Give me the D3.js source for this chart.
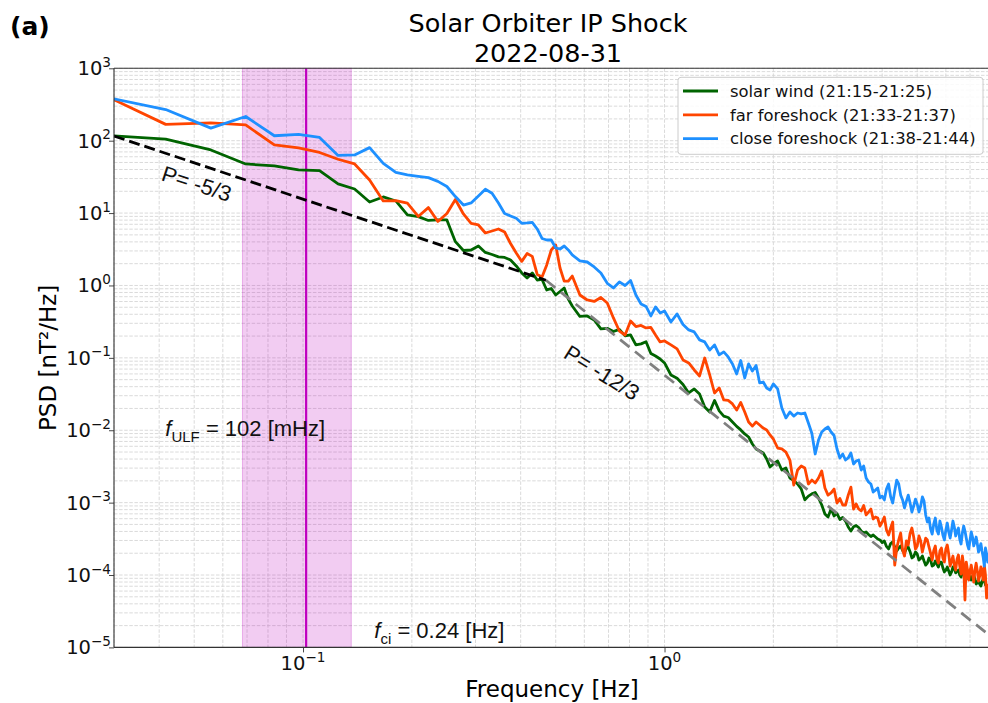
<!DOCTYPE html>
<html>
<head>
<meta charset="utf-8">
<script src="https://cdn.jsdelivr.net/npm/d3@7"></script>
<style>
  body { margin: 0; background: #fff; }
  svg { display: block; font-family: "DejaVu Sans", sans-serif; }
</style>
</head>
<body>
<svg id="chart" width="988" height="703"></svg>
<script>
// Frequencies [Hz] (k/72 Hz, thinned out at high frequency)
const freq = [
  0.0278, 0.0417, 0.0556, 0.0694, 0.0833, 0.0972, 0.1111, 0.125, 0.1389, 0.1528,
  0.1667, 0.1806, 0.1944, 0.2083, 0.2222, 0.2361, 0.25, 0.2639, 0.2778, 0.2917,
  0.3056, 0.3194, 0.3333, 0.3472, 0.3611, 0.375, 0.3889, 0.4028, 0.4167, 0.4306,
  0.4444, 0.4583, 0.4722, 0.4861, 0.5, 0.5139, 0.5278, 0.5417, 0.5556,
  0.5833, 0.6111, 0.6389, 0.6667, 0.6944, 0.7222, 0.75, 0.7778, 0.8056, 0.8333,
  0.8611, 0.8889, 0.9167, 0.9444, 0.9722, 1.0,
  1.0417, 1.0833, 1.125, 1.1667, 1.2083, 1.25, 1.2917, 1.3333, 1.375, 1.4167,
  1.4583, 1.5, 1.5417, 1.5833, 1.625, 1.6667, 1.7083, 1.75, 1.7917, 1.8333,
  1.875, 1.9167, 1.9583, 2.0,
  2.0556, 2.1111, 2.1667, 2.2222, 2.2778, 2.3333, 2.3889, 2.4444, 2.5, 2.5556,
  2.6111, 2.6667, 2.7222, 2.7778, 2.8333, 2.8889, 2.9444, 3.0, 3.0556, 3.1111,
  3.1667, 3.2222, 3.2778, 3.3333, 3.3889, 3.4444, 3.5, 3.5556, 3.6111, 3.6667,
  3.7222, 3.7778, 3.8333, 3.8889, 3.9444, 4.0,
  4.0556, 4.1111, 4.1667, 4.2222, 4.2778, 4.3333, 4.3889, 4.4444, 4.5, 4.5556,
  4.6111, 4.6667, 4.7222, 4.7778, 4.8333, 4.8889, 4.9444, 5.0, 5.0556, 5.1111,
  5.1667, 5.2222, 5.2778, 5.3333, 5.3889, 5.4444, 5.5, 5.5556, 5.6111, 5.6667,
  5.7222, 5.7778, 5.8333, 5.8889, 5.9444, 6.0, 6.0556, 6.1111, 6.1667, 6.2222,
  6.2778, 6.3333, 6.3889, 6.4444, 6.5, 6.5556, 6.6111, 6.6667, 6.7222, 6.7778,
  6.8333, 6.8889, 6.9444, 7.0, 7.0556, 7.1111, 7.1667, 7.2222, 7.2778, 7.3333,
  7.3889, 7.4444, 7.5, 7.5556, 7.6111, 7.6667, 7.7222, 7.7778, 7.8333, 7.8889,
  7.9444, 8.0
];

// PSD [nT^2/Hz]
const psdSolarWind = [
  119, 105, 74.5, 47.7, 44.8, 39.4, 38.6, 25.3, 21.5, 14.2,
  16.7, 14.7, 9.42, 8.92, 7.91, 8.04, 8.04, 4.03, 3.04, 3.09,
  3.51, 2.86, 2.68, 2.48, 2.44, 2.25, 1.86, 1.49, 1.27, 1.49,
  1.19, 1.21, 0.867, 0.909, 0.739, 0.826, 0.924, 0.651, 0.521,
  0.373, 0.379, 0.334, 0.251, 0.256, 0.231, 0.247, 0.201, 0.207, 0.151,
  0.156, 0.167, 0.115, 0.106, 0.0965, 0.085,
  0.058, 0.0522, 0.0429, 0.0327, 0.0372, 0.0317, 0.021, 0.0179, 0.0258, 0.0185,
  0.0157, 0.015, 0.013, 0.0113, 0.0101, 0.00888, 0.00806, 0.00646, 0.00551, 0.00517,
  0.00485, 0.00401, 0.00311, 0.00342,
  0.00376, 0.00282, 0.00301, 0.00219, 0.00202, 0.00181, 0.00154, 0.00109, 0.00123, 0.00132,
  0.00138, 0.00116, 0.000927, 0.000697, 0.000633, 0.000816, 0.000653, 0.000707, 0.000585, 0.000623,
  0.000557, 0.00046, 0.000405, 0.000465, 0.000483, 0.000453, 0.000405, 0.00038, 0.000393, 0.000363,
  0.00034, 0.000357, 0.000335, 0.000314, 0.000305, 0.000281,
  0.000295, 0.000248, 0.000229, 0.000272, 0.000286, 0.000244, 0.000215, 0.000236, 0.000252, 0.000218,
  0.000201, 0.000232, 0.000244, 0.00021, 0.000172, 0.00018, 0.000208, 0.000195, 0.000161, 0.000169,
  0.000183, 0.000156, 0.000137, 0.000146, 0.000172, 0.000161, 0.000133, 0.000137, 0.000156, 0.000142,
  0.000129, 0.000151, 0.000151, 0.000125, 0.00011, 0.000117, 0.000129, 0.000114, 0.0001, 0.00011,
  0.000129, 0.000125, 0.000107, 0.000114, 0.000117, 0.0001, 0.0000938, 0.00011, 0.000114, 0.000103,
  0.000088, 0.0000909, 0.0001, 0.0000938, 0.0000853, 0.0000969, 0.0001, 0.000088, 0.0000751, 0.0000776,
  0.0000853, 0.0000751, 0.0000705, 0.00008, 0.000088, 0.0000853, 0.0000727, 0.0000705, 0.0000705, 0.000062,
  0.0000582, 0.0000661
];

const psdFarForeshock = [
  442, 168, 176, 165, 87.4, 79.4, 68.8, 55.4, 47.7, 28.7,
  14.7, 14.9, 13.7, 8.98, 11.9, 7.66, 9.88, 15.4, 9.72, 7.19,
  6.85, 5.31, 5.66, 6.03, 5.48, 3.8, 2.81, 2.15, 2.77, 2.52,
  1.42, 1.31, 1.92, 3.09, 3.63, 1.74, 1.15, 1.15, 1.35,
  0.739, 0.63, 0.601, 0.683, 0.573, 0.356, 0.235, 0.207, 0.323, 0.271,
  0.28, 0.259, 0.263, 0.207, 0.166, 0.171,
  0.151, 0.133, 0.0935, 0.085, 0.068, 0.0562, 0.0996, 0.058, 0.0327, 0.0384,
  0.0262, 0.0258, 0.0231, 0.019, 0.0242, 0.0179, 0.013, 0.0114, 0.013, 0.0118,
  0.0107, 0.0101, 0.0086, 0.00757,
  0.00568, 0.00551, 0.005, 0.00388, 0.00175, 0.00282, 0.00321, 0.00301, 0.00181, 0.00205,
  0.00187, 0.00219, 0.00274, 0.00159, 0.00127, 0.00136, 0.00154, 0.000988, 0.00114, 0.000927,
  0.000927, 0.00127, 0.00164, 0.000816, 0.000957, 0.000816, 0.000766, 0.000913, 0.000675, 0.000742,
  0.000816, 0.000594, 0.000633, 0.000613, 0.000475, 0.00054,
  0.000633, 0.000418, 0.000357, 0.000446, 0.00054, 0.000137, 0.000236, 0.000305, 0.00038, 0.000222,
  0.000183, 0.000295, 0.00026, 0.000374, 0.000446, 0.000335, 0.000229, 0.000252, 0.000346, 0.000295,
  0.000208, 0.00026, 0.000324, 0.000305, 0.000244, 0.000201, 0.000161, 0.000218, 0.000252, 0.000166,
  0.000146, 0.000215, 0.000236, 0.000172, 0.000151, 0.000229, 0.00026, 0.000195, 0.000133, 0.000156,
  0.000183, 0.000137, 0.000117, 0.000166, 0.000189, 0.000133, 0.000103, 0.000183, 0.000133, 0.0000451,
  0.000151, 0.000117, 0.0000853, 0.000114, 0.000137, 0.000103, 0.00008, 0.000117, 0.000146, 0.000114,
  0.0000826, 0.0000969, 0.000129, 0.00011, 0.0000853, 0.000137, 0.0001, 0.0000481, 0.0000727, 0.0000582,
  0.0000481, 0.000062
];

const psdCloseForeshock = [
  410, 269, 149, 216, 117, 122, 111, 62.6, 63.6, 80.2,
  48.5, 36.4, 33.6, 32.1, 30.9, 27.4, 23.3, 16.9, 12.9, 13.8,
  17.2, 21.3, 18.8, 13.8, 9.88, 9.13, 8.48, 7.23, 7.3, 7.42,
  6.03, 4.46, 4.25, 4.25, 3.3, 3.19, 3.51, 3.09, 2.64,
  2.18, 2.11, 1.8, 1.49, 1.07, 0.924, 1.12, 1.0, 1.17, 0.739,
  0.555, 0.513, 0.379, 0.505, 0.417, 0.444,
  0.313, 0.404, 0.289, 0.243, 0.228, 0.177, 0.166, 0.128, 0.151, 0.11,
  0.121, 0.103, 0.0823, 0.0599, 0.092, 0.0527, 0.0823, 0.0659, 0.0785, 0.045,
  0.0464, 0.0384, 0.036, 0.0436,
  0.0372, 0.0203, 0.0148, 0.0179, 0.0157, 0.0173, 0.0168, 0.0173, 0.0126, 0.00908,
  0.0047, 0.00733, 0.00946, 0.0104, 0.0111, 0.00946, 0.00846, 0.00551, 0.00414, 0.0047,
  0.00388, 0.00414, 0.00485, 0.00342, 0.00376, 0.00388, 0.00282, 0.00321, 0.00219, 0.00193,
  0.00181, 0.0014, 0.00149, 0.00159, 0.00116, 0.00123,
  0.00109, 0.00154, 0.00181, 0.0012, 0.000988, 0.00145, 0.00205, 0.00181, 0.00127, 0.00109,
  0.000843, 0.00105, 0.00127, 0.000988, 0.000742, 0.000898, 0.00112, 0.000957, 0.000742, 0.000898,
  0.0012, 0.00105, 0.000675, 0.00054, 0.000613, 0.000432, 0.000368, 0.000507, 0.000613, 0.000418,
  0.000368, 0.000557, 0.00046, 0.000357, 0.000305, 0.000418, 0.000523, 0.000393, 0.000324, 0.000418,
  0.000557, 0.00046, 0.000346, 0.000405, 0.000446, 0.000314, 0.000268, 0.00038, 0.000475, 0.000405,
  0.000324, 0.00026, 0.000229, 0.000305, 0.000393, 0.000335, 0.000252, 0.000286, 0.000335, 0.000268,
  0.000208, 0.000236, 0.000272, 0.000215, 0.000177, 0.000133, 0.000236, 0.000195, 0.000151, 0.000183,
  0.000222, 0.000172
];

const seriesNames = ["solar wind (21:15-21:25)", "far foreshock (21:33-21:37)", "close foreshock (21:38-21:44)"];
const seriesColors = ["#006400", "#ff4500", "#1e90ff"];

// power-law guide lines (end points)
const fitKolmogorovF = [0.03, 0.47], fitKolmogorovP = [116, 1.18];
const fitSteepF = [0.47, 8], fitSteepP = [1.18, 1.41e-5];

const fUlf = 0.102;
const ulfBand = [0.068, 0.136];

const xMajor = [0.1, 1];
const yMajor = [1e-5, 1e-4, 1e-3, 1e-2, 1e-1, 1e0, 1e1, 1e2, 1e3];

// layout
const margin = { top: 68.3, left: 114 };
const plotW = 877, plotH = 579.1;

const svg = d3.select("#chart");
const g = svg.append("g").attr("transform", `translate(${margin.left},${margin.top})`);

const x = d3.scaleLog().domain([0.03, 8]).range([0, plotW]);
const y = d3.scaleLog().domain([1e-5, 1e3]).range([plotH, 0]);

// minor tick values
const xMinor = [], yMinor = [];
for (let e = -2; e <= 0; e++) for (let m = 2; m <= 9; m++) {
  const v = m * Math.pow(10, e);
  if (v >= 0.0299 && v <= 8.001) xMinor.push(v);
}
for (let e = -5; e <= 2; e++) for (let m = 2; m <= 9; m++) yMinor.push(m * Math.pow(10, e));

g.append("clipPath").attr("id", "clip")
  .append("rect").attr("width", plotW).attr("height", plotH);

// grid (major + minor)
const grid = g.append("g").attr("stroke", "#d6d6d6").attr("stroke-width", 0.9).attr("stroke-dasharray", "3.5,1.6");
grid.selectAll(".gx").data(xMajor.concat(xMinor)).enter().append("line")
  .attr("x1", d => x(d)).attr("x2", d => x(d)).attr("y1", 0).attr("y2", plotH);
grid.selectAll(".gy").data(yMajor.concat(yMinor)).enter().append("line")
  .attr("y1", d => y(d)).attr("y2", d => y(d)).attr("x1", 0).attr("x2", plotW);

// ULF band and line
g.append("rect")
  .attr("x", x(ulfBand[0])).attr("width", x(ulfBand[1]) - x(ulfBand[0]))
  .attr("y", 0).attr("height", plotH)
  .attr("fill", "#bf00bf").attr("fill-opacity", 0.2)
  .attr("stroke", "#bf00bf").attr("stroke-opacity", 0.25);
g.append("line")
  .attr("x1", x(fUlf)).attr("x2", x(fUlf)).attr("y1", 0).attr("y2", plotH)
  .attr("stroke", "#bf00bf").attr("stroke-width", 2.2);

// spectra
const line = d3.line().x(d => x(d[0])).y(d => y(d[1]));
const series = [psdSolarWind, psdFarForeshock, psdCloseForeshock];
const plotArea = g.append("g").attr("clip-path", "url(#clip)");
series.forEach((vals, i) => {
  const pts = d3.zip(freq, vals);
  plotArea.append("path")
    .datum(pts)
    .attr("d", line)
    .attr("fill", "none")
    .attr("stroke", seriesColors[i])
    .attr("stroke-width", 2.8)
    .attr("stroke-linejoin", "round");
});

// guide lines
plotArea.append("path")
  .datum(d3.zip(fitSteepF, fitSteepP))
  .attr("d", line).attr("fill", "none")
  .attr("stroke", "#808080").attr("stroke-width", 2.8).attr("stroke-dasharray", "12,7");
plotArea.append("path")
  .datum(d3.zip(fitKolmogorovF, fitKolmogorovP))
  .attr("d", line).attr("fill", "none")
  .attr("stroke", "#000").attr("stroke-width", 2.8).attr("stroke-dasharray", "11,5");

// axes
const xAxis = g.append("g").attr("transform", `translate(0,${plotH})`);
xAxis.call(d3.axisBottom(x).tickValues(xMinor).tickSize(2.8).tickFormat(""));
xAxis.call(d3.axisBottom(x).tickValues(xMajor).tickSize(5).tickFormat(""));
const yAxis = g.append("g");
yAxis.call(d3.axisLeft(y).tickValues(yMinor).tickSize(2.8).tickFormat(""));
yAxis.call(d3.axisLeft(y).tickValues(yMajor).tickSize(5).tickFormat(""));
g.selectAll(".domain").remove();
g.selectAll(".tick line").attr("stroke", "#333").attr("stroke-width", 0.9);

// spines (right one falls just outside the page)
const spine = [[0, 0, 0, plotH], [0, plotW, plotH, plotH], [0, plotW, 0, 0], [plotW, plotW, 0, plotH]];
spine.forEach(s => g.append("line").attr("x1", s[0]).attr("x2", s[1]).attr("y1", s[2]).attr("y2", s[3])
  .attr("stroke", "#333").attr("stroke-width", 1.1));

// power-of-ten labels
function powLabel(sel, v) {
  const exp = Math.round(Math.log10(v));
  sel.append("tspan").text("10");
  sel.append("tspan").attr("dy", -8.5).attr("font-size", 13.6).text(exp < 0 ? "\u2212" + (-exp) : String(exp));
}
xMajor.forEach(v => {
  const t = g.append("text").attr("x", x(v)).attr("y", plotH + 23)
    .attr("text-anchor", "middle").attr("font-size", 19.5).attr("fill", "#111");
  powLabel(t, v);
});
yMajor.forEach(v => {
  const t = g.append("text").attr("x", -3).attr("y", y(v) + 7)
    .attr("text-anchor", "end").attr("font-size", 19.5).attr("fill", "#111");
  powLabel(t, v);
});

// axis titles
svg.append("text").attr("x", margin.left + 438).attr("y", 697)
  .attr("text-anchor", "middle").attr("font-size", 23).text("Frequency [Hz]");
svg.append("text").attr("transform", `translate(56,${margin.top + plotH / 2}) rotate(-90)`)
  .attr("text-anchor", "middle").attr("font-size", 23).text("PSD [nT\u00b2/Hz]");

// title
svg.append("text").attr("x", 548).attr("y", 31.5).attr("text-anchor", "middle")
  .attr("font-size", 25.5).text("Solar Orbiter IP Shock");
svg.append("text").attr("x", 548).attr("y", 61.5).attr("text-anchor", "middle")
  .attr("font-size", 25.5).text("2022-08-31");
svg.append("text").attr("x", 10).attr("y", 35).attr("font-size", 25).attr("font-weight", "bold").text("(a)");

// annotations
const annFont = "'Liberation Sans', Arial, sans-serif";
const ulfText = g.append("text").attr("x", x(0.0416)).attr("y", y(0.0082))
  .attr("font-family", annFont).attr("font-size", 22).attr("fill", "#111");
ulfText.append("tspan").attr("font-style", "italic").text("f");
ulfText.append("tspan").attr("font-size", 15).attr("dy", 6).text("ULF");
ulfText.append("tspan").attr("dy", -6).text(" = 102 [mHz]");

const ciText = g.append("text").attr("x", x(0.1575)).attr("y", y(1.33e-5))
  .attr("font-family", annFont).attr("font-size", 22).attr("fill", "#111");
ciText.append("tspan").attr("font-style", "italic").text("f");
ciText.append("tspan").attr("font-size", 15).attr("dy", 6).text("ci");
ciText.append("tspan").attr("dy", -6).text(" = 0.24 [Hz]");

g.append("text")
  .attr("transform", `translate(${x(0.0403)},${y(28.7)}) rotate(18)`)
  .attr("font-family", annFont).attr("font-size", 22).attr("fill", "#111")
  .text("P= -5/3");
g.append("text")
  .attr("transform", `translate(${x(0.5215)},${y(0.103)}) rotate(32)`)
  .attr("font-family", annFont).attr("font-size", 22).attr("fill", "#111")
  .text("P= -12/3");

// legend
const legX = plotW - 8 - 305, legY = 9;
const legend = g.append("g").attr("transform", `translate(${legX},${legY})`);
legend.append("rect").attr("width", 305).attr("height", 77).attr("rx", 3)
  .attr("fill", "#fff").attr("fill-opacity", 0.85).attr("stroke", "#cccccc");
seriesNames.forEach((name, i) => {
  const yy = 13.7 + i * 23.8;
  legend.append("line").attr("x1", 5).attr("x2", 40).attr("y1", yy).attr("y2", yy)
    .attr("stroke", seriesColors[i]).attr("stroke-width", 2.8);
  legend.append("text").attr("x", 52).attr("y", yy + 5.8).attr("font-size", 16.4)
    .attr("fill", "#111").text(name);
});
</script>
</body>
</html>
